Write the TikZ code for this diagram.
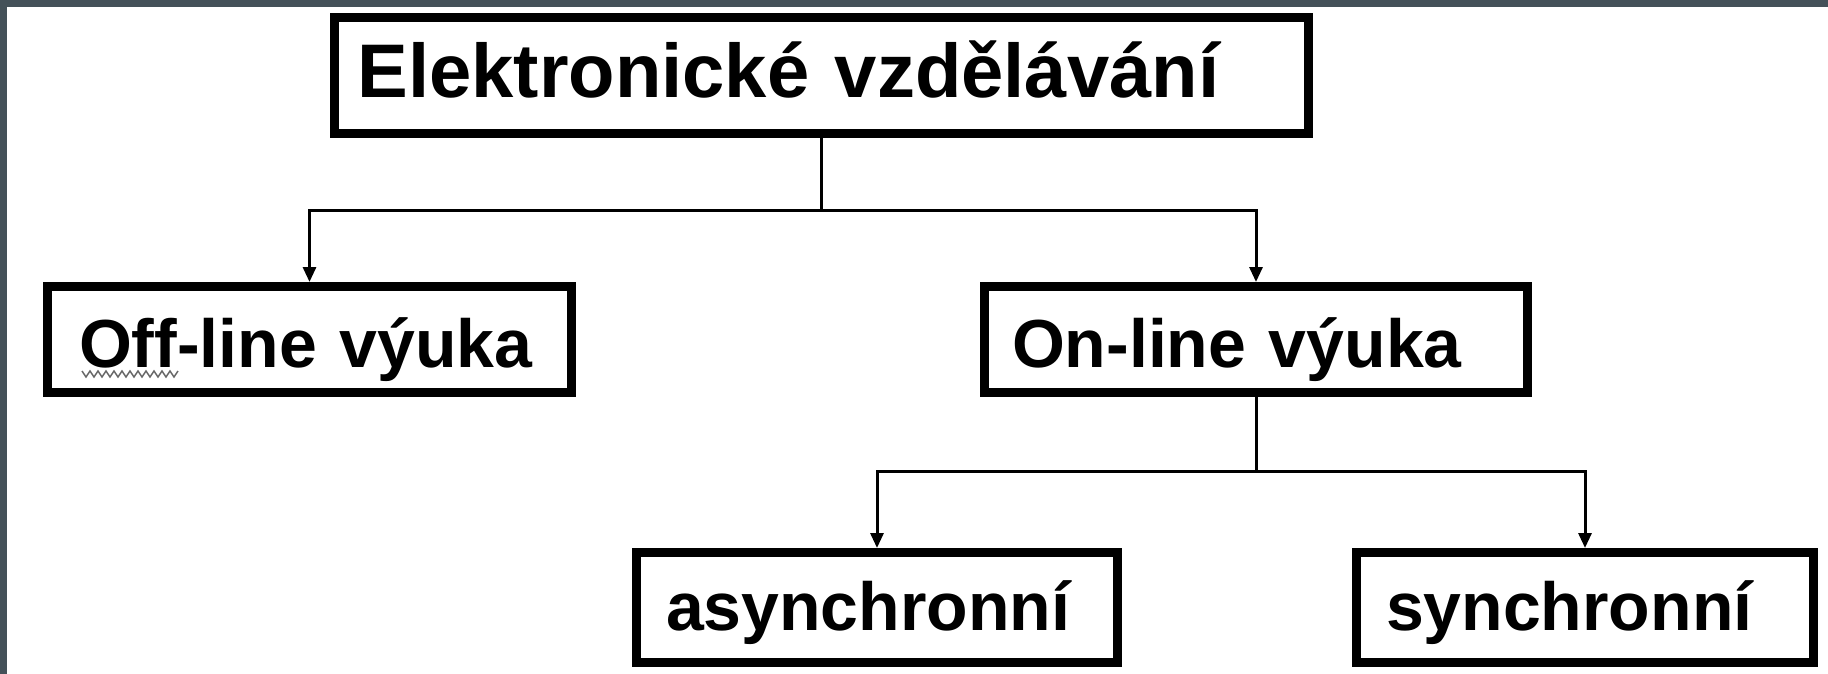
\documentclass[tikz,border=0pt]{standalone}
\usepackage{fontspec}
\setmainfont{Liberation Sans}
\usetikzlibrary{arrows.meta}
\definecolor{frame}{RGB}{68,81,89}
\begin{document}
\begin{tikzpicture}[x=1pt,y=-1pt,
  box/.style={draw=black, line width=9pt, fill=white, rectangle, inner ysep=0pt,
    align=left, font=\fontsize{68}{80}\selectfont\bfseries, text depth=0pt},
  link/.style={draw=black, line width=3pt},
  arr/.style={link, -{Triangle[length=15pt,width=13pt]}},
  wavy/.style={draw=black!60, line width=1.5pt}]
\fill[white] (0,0) rectangle (1828,674);
\useasboundingbox (0,0) rectangle (1828,674);
\fill[frame] (0,0) rectangle (1828,7);
\fill[frame] (0,0) rectangle (7,674);

\node[box, inner xsep=23pt, text width=928pt, minimum height=116pt, text height=45pt,
  font=\fontsize{76}{90}\selectfont\bfseries] (top) at (821.5,75.5) {Elektronické vzdělávání};
\node[box, inner xsep=31.5pt, text width=461pt, minimum height=106pt, text height=55pt]
  (off) at (309.5,339.5) {Off-line výuka};
\node[box, inner xsep=27.5pt, text width=488pt, minimum height=106pt, text height=55pt]
  (on) at (1256,339.5) {On-line výuka};
\node[box, inner xsep=29.5pt, text width=422pt, minimum height=110pt, text height=45pt]
  (async) at (877,607.5) {asynchronní};
\node[box, inner xsep=29.5pt, text width=398pt, minimum height=110pt, text height=45pt]
  (sync) at (1585,607.5) {synchronní};

\coordinate (j1) at (821.5,210);
\draw[link] (top.south) -- (j1);
\draw[arr] (j1) -| (off.north);
\draw[arr] (j1) -| (on.north);
\coordinate (j2) at (1256,471);
\draw[link] (on.south) -- (j2);
\draw[arr] (j2) -| (async.north);
\draw[arr] (j2) -| (sync.north);

\draw[wavy] (82,371) \foreach \i in {1,...,12} { -- ++(4,6) -- ++(4,-6) };
\end{tikzpicture}
\end{document}
